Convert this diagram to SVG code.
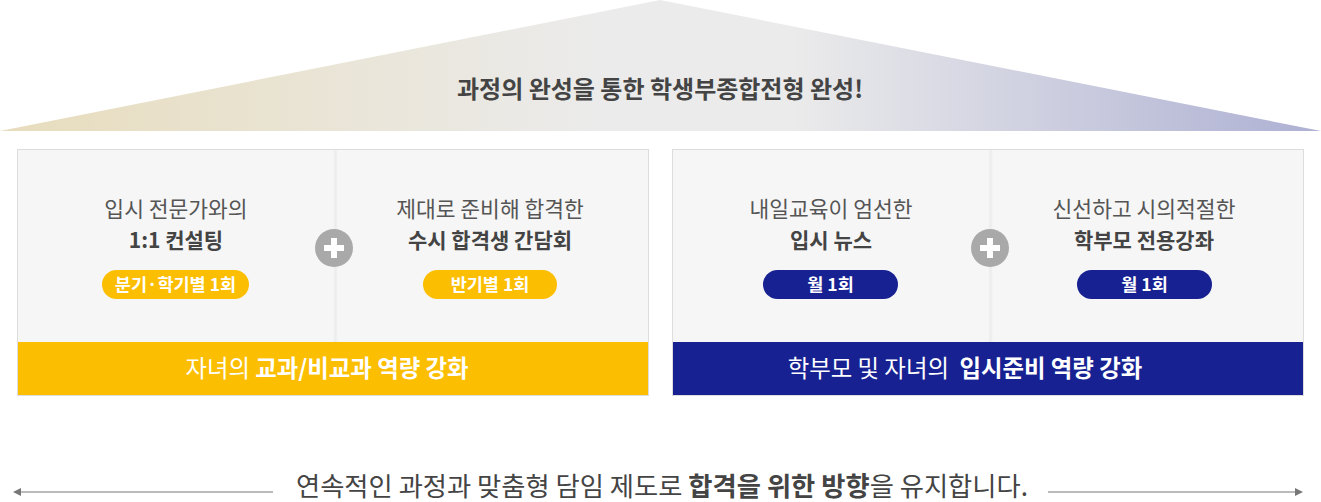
<svg xmlns="http://www.w3.org/2000/svg" width="1321" height="502" viewBox="0 0 1321 502">
<defs>
<linearGradient id="roof" x1="0" y1="0" x2="1321" y2="0" gradientUnits="userSpaceOnUse">
<stop offset="0" stop-color="#e7dcbc"/>
<stop offset="0.45" stop-color="#ebebeb"/>
<stop offset="0.6" stop-color="#ebebeb"/>
<stop offset="1" stop-color="#adb0d3"/>
</linearGradient>
<linearGradient id="div" x1="0" y1="0" x2="1" y2="0">
<stop offset="0" stop-color="#f6f6f6"/>
<stop offset="0.5" stop-color="#ececec"/>
<stop offset="1" stop-color="#f6f6f6"/>
</linearGradient>
<marker id="arr" viewBox="0 0 8 8" refX="4" refY="4" markerWidth="8" markerHeight="8" markerUnits="userSpaceOnUse" orient="auto-start-reverse">
<path d="M0,0 L8,4 L0,8 z" fill="#777"/>
</marker>
<g id="plus">
<circle cx="0" cy="0" r="19" fill="#a9a9a9"/>
<rect x="-10" y="-3" width="20" height="6" fill="#fff"/>
<rect x="-3" y="-10" width="6" height="20" fill="#fff"/>
</g>
</defs>
<style>
text{font-family:"Noto Sans CJK KR","Noto Sans",sans-serif;text-anchor:middle}
.title{font-size:24px;font-weight:700;fill:#444}
.l1{font-size:21.5px;fill:#555}
.l2{font-size:21px;font-weight:700;fill:#444}
.pill{font-size:17.5px;font-weight:700;fill:#fff}
.bar{font-size:23.4px;fill:#fff}
.b{font-weight:700}
.panel{fill:#f6f6f6;stroke:#dddddd;stroke-width:1}
.bottom{font-size:26.3px;fill:#444}
</style>
<g id="roof-g">
<polygon points="0,131 660,0 1321,131" fill="url(#roof)"/>
<text class="title" x="660" y="98">과정의 완성을 통한 학생부종합전형 완성!</text>
</g>
<g id="panel-left">
<rect class="panel" x="17.5" y="149.5" width="631" height="246"/>
<rect x="333" y="150" width="5" height="192" fill="url(#div)"/>
<rect x="18" y="342" width="630" height="53" fill="#fcbe00"/>
<text class="bar" x="327" y="377">자녀의 <tspan class="b">교과/비교과 역량 강화</tspan></text>
</g>
<g id="cell-1">
<text class="l1" x="176" y="217">입시 전문가와의</text>
<text class="l2" x="176" y="248">1:1 컨설팅</text>
<rect x="102" y="270" width="147" height="29" rx="14.5" fill="#fcbe00"/>
<text class="pill" x="175.5" y="291">분기·학기별 1회</text>
</g>
<g id="cell-2">
<text class="l1" x="490" y="217">제대로 준비해 합격한</text>
<text class="l2" x="490" y="248">수시 합격생 간담회</text>
<rect x="423" y="270" width="134" height="29" rx="14.5" fill="#fcbe00"/>
<text class="pill" x="490" y="291">반기별 1회</text>
</g>
<g id="plus-left"><use href="#plus" x="334" y="248"/></g>
<g id="panel-right">
<rect class="panel" x="672.5" y="149.5" width="631" height="246"/>
<rect x="988" y="150" width="5" height="192" fill="url(#div)"/>
<rect x="673" y="342" width="630" height="53" fill="#172192"/>
<text class="bar" x="965" y="377" xml:space="preserve">학부모 및 자녀의  <tspan class="b">입시준비 역량 강화</tspan></text>
</g>
<g id="cell-3">
<text class="l1" x="831" y="217">내일교육이 엄선한</text>
<text class="l2" x="831" y="248">입시 뉴스</text>
<rect x="763" y="270" width="135" height="29" rx="14.5" fill="#172192"/>
<text class="pill" x="830.5" y="291">월 1회</text>
</g>
<g id="cell-4">
<text class="l1" x="1144" y="217">신선하고 시의적절한</text>
<text class="l2" x="1144" y="248">학부모 전용강좌</text>
<rect x="1077" y="270" width="135" height="29" rx="14.5" fill="#172192"/>
<text class="pill" x="1144.5" y="291">월 1회</text>
</g>
<g id="plus-right"><use href="#plus" x="990" y="248"/></g>
<g id="connectors">
<line x1="273" y1="492" x2="17" y2="492" stroke="#777" stroke-width="1" marker-end="url(#arr)"/>
<line x1="1048" y1="492" x2="1299" y2="492" stroke="#777" stroke-width="1" marker-end="url(#arr)"/>
</g>
<g id="footer">
<text class="bottom" x="662" y="496">연속적인 과정과 맞춤형 담임 제도로 <tspan class="b">합격을 위한 방향</tspan>을 유지합니다.</text>
</g>
</svg>
